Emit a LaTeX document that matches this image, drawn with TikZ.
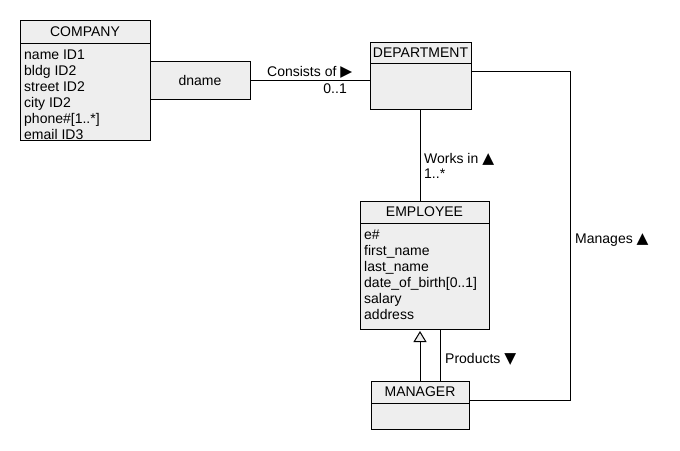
\documentclass[tikz,border=0pt]{standalone}
\usepackage{fontspec}
\setmainfont{Liberation Sans}
\newfontfamily\symfont[Scale=1.1]{DejaVu Sans}
\usetikzlibrary{positioning, arrows.meta}
\definecolor{boxgray}{RGB}{238,238,238}
\tikzset{
  uml/.style={draw=black, fill=boxgray, line width=1pt, inner sep=0pt, outer sep=0pt,
    font=\fontsize{14}{16}\selectfont},
  txt/.style={inner sep=0pt, font=\fontsize{14}{16}\selectfont},
  conn/.style={line width=1pt}
}

\begin{document}
\begin{tikzpicture}[x=1pt, y=-1pt]
\useasboundingbox (0,0) rectangle (680,450);

% classes
\node [uml, minimum width=130pt, minimum height=23pt] (company) at (85,31.5) {COMPANY};
\node [uml, minimum width=130pt, minimum height=97pt, below=0pt of company] (companyb) {};
\foreach \t [count=\i] in {{name ID1}, {bldg ID2}, {street ID2}, {city ID2}, {phone\#[1..*]}, {email ID3}}
  \node [txt, anchor=base west] (company-\i) at (24,43+16*\i) {\t};

\node [uml, minimum width=100pt, minimum height=38pt] (dname) at (200,80) {dname};

\node [uml, minimum width=101pt, minimum height=21pt] (dept) at (420.5,52.5) {DEPARTMENT};
\node [uml, minimum width=101pt, minimum height=46pt, below=0pt of dept] (deptb) {};

\node [uml, minimum width=129pt, minimum height=22pt] (emp) at (424.5,212) {EMPLOYEE};
\node [uml, minimum width=129pt, minimum height=106pt, below=0pt of emp] (empb) {};
\foreach \t [count=\i] in {{e\#}, {first\_name}, {last\_name}, {date\_of\_birth[0..1]}, {salary}, {address}}
  \node [txt, anchor=base west] (emp-\i) at (364,223+16*\i) {\t};

\node [uml, minimum width=98pt, minimum height=22pt] (manager) at (420,392) {MANAGER};
\node [uml, minimum width=98pt, minimum height=26pt, below=0pt of manager] (managerb) {};

% labels
\node [txt, anchor=base west] (consists) at (267,76) {Consists of {\symfont ▶}};
\node [txt, anchor=base east] (mult01) at (347,93) {0..1};
\node [txt, anchor=base west] (works) at (424,163) {Works in {\symfont ▲}};
\node [txt, anchor=base west] (mult1n) at (424,178) {1..*};
\node [txt, anchor=base west] (products) at (445,363) {Products {\symfont ▼}};
\node [txt, anchor=base west] (manages) at (575,243) {Manages {\symfont ▲}};

% connectors
\draw [conn] (dname.east) -- (dname.east -| dept.west);
\draw [conn] (deptb.south) -- (deptb.south |- emp.north);
\draw [conn, -{Triangle[length=11pt, width=13pt, fill=boxgray]}, shorten >=2pt]
  (manager.north) -- (manager.north |- empb.south);
\coordinate (prod) at ([xshift=20pt]manager.north);
\draw [conn] (prod) -- (prod |- empb.south);
\coordinate (mtop) at ([yshift=-8pt]deptb.north east);
\coordinate (mbot) at ([yshift=-8pt]manager.east);
\coordinate (mright) at (570,236);
\draw [conn] (mtop) -| (mright |- mbot) -- (mbot);
\end{tikzpicture}
\end{document}
